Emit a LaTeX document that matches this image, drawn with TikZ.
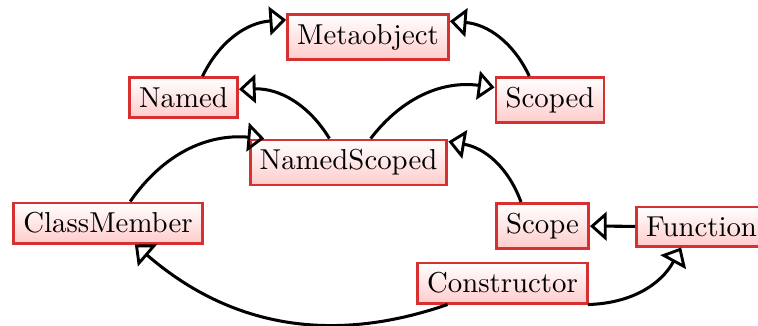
\documentclass[tikz,border=0pt]{standalone}
\usetikzlibrary{arrows.meta}
\definecolor{boxred}{RGB}{214,48,48}
\begin{document}
\begin{tikzpicture}[x=0.3472pt, y=-0.3472pt,
  cls/.style={draw=boxred, line width=1pt, top color=white, bottom color=red!20, inner sep=3.333pt},
  inh/.style={line width=1.05pt, -{Triangle[open, length=5.8pt, width=10pt, line width=1pt]}}]
\useasboundingbox (0,0) rectangle (758,325);
\node[cls] (Metaobject) at (368,37) {Metaobject};
\node[cls] (Named) at (183.5,97.5) {Named};
\node[cls] (Scoped) at (550,100) {Scoped};
\node[cls] (NamedScoped) at (348.5,162.5) {NamedScoped};
\node[cls] (ClassMember) at (108,223) {ClassMember};
\node[cls] (Scope) at (542.5,226) {Scope};
\node[cls] (Function) at (701.5,226.5) {Function};
\node[cls] (Constructor) at (502.5,283) {Constructor};
\draw[inh] (Named) to[bend left] (Metaobject);
\draw[inh] (Scoped) to[bend right] (Metaobject);
\draw[inh] (NamedScoped) to[bend right] (Named);
\draw[inh] (NamedScoped) to[bend left] (Scoped);
\draw[inh] (ClassMember) to[bend left] (NamedScoped);
\draw[inh] (Scope) to[bend right] (NamedScoped);
\draw[inh] (Function) -- (Scope);
\draw[inh] (Constructor) to[bend left] (ClassMember);
\draw[inh] (Constructor) to[bend right] (Function);
\end{tikzpicture}
\end{document}
